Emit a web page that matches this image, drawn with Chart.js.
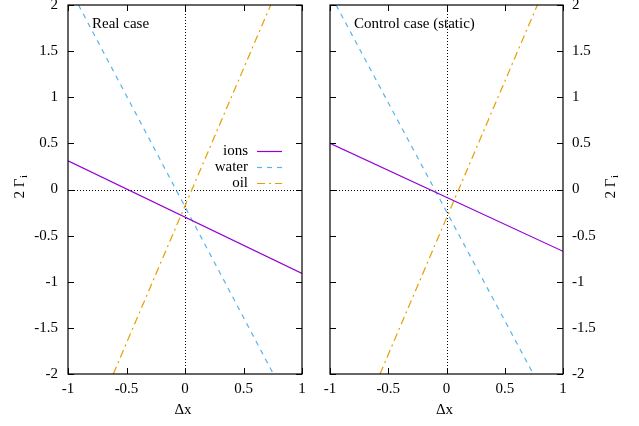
<!DOCTYPE html>
<html>
<head>
<meta charset="utf-8">
<script src="https://cdn.jsdelivr.net/npm/chart.js@4"></script>
<style>
  body { margin: 0; background: #fff; }
  #wrap { position: relative; width: 639px; height: 426px; }
  canvas { position: absolute; top: 0; }
</style>
</head>
<body>
<div id="wrap">
  <canvas id="realChart" width="320" height="426" style="left:0"></canvas>
  <canvas id="staticChart" width="319" height="426" style="left:320px"></canvas>
</div>
<script>
// series names
const seriesNames = ["ions", "water", "oil"];

// Real case: [dx, 2*Gamma_i] end points
const realIons = [[-1, 0.31], [1, -0.91]];
const realWater = [[-0.91, 2], [0.755, -2]];
const realOil = [[-0.613, -2], [0.732, 2]];

// Control case (static)
const staticIons = [[-1, 0.5], [1, -0.67]];
const staticWater = [[-0.948, 2], [0.745, -2]];
const staticOil = [[-0.571, -2], [0.78, 2]];

// tick labels
const xTicks = [-1, -0.5, 0, 0.5, 1];
const yTicks = [-2, -1.5, -1, -0.5, 0, 0.5, 1, 1.5, 2];

const FONT = "'Liberation Serif', 'DejaVu Serif', serif";
const colors = ["#9400d3", "#56b4e9", "#e69f00"];
const dashes = [[], [5, 5], [8, 4, 2, 4]];

function toPoints(arr) {
  return arr.map(p => ({ x: p[0], y: p[1] }));
}

function makeDatasets(series) {
  return series.map((s, i) => ({
    label: seriesNames[i],
    data: toPoints(s),
    showLine: true,
    borderColor: colors[i],
    borderWidth: 1.2,
    borderDash: dashes[i],
    pointRadius: 0,
    fill: false,
  }));
}

// no extra room for label overflow, the frame is placed by hand
function noPad(s) {
  s.paddingTop = 0;
  s.paddingBottom = 0;
  s.paddingLeft = 0;
  s.paddingRight = 0;
}

// gnuplot-like frame, inward mirror ticks, zero axes, legend and labels
const gnuplotStyle = {
  id: "gnuplotStyle",
  beforeDatasetsDraw(chart) {
    const ctx = chart.ctx;
    const a = chart.chartArea;
    const xs = chart.scales.x, ys = chart.scales.y;
    ctx.save();
    ctx.strokeStyle = "#000";
    ctx.lineWidth = 1;
    ctx.setLineDash([1, 2]);
    const x0 = Math.round(xs.getPixelForValue(0)) + 0.5;
    const y0 = Math.round(ys.getPixelForValue(0)) + 0.5;
    ctx.beginPath();
    ctx.moveTo(x0, a.top); ctx.lineTo(x0, a.bottom);
    ctx.moveTo(a.left, y0); ctx.lineTo(a.right, y0);
    ctx.stroke();
    ctx.restore();
  },
  afterDatasetsDraw(chart, args, opts) {
    const ctx = chart.ctx;
    const a = chart.chartArea;
    const xs = chart.scales.x, ys = chart.scales.y;
    ctx.save();
    ctx.strokeStyle = "#000";
    ctx.lineWidth = 1.2;
    ctx.strokeRect(a.left, a.top, a.right - a.left, a.bottom - a.top);
    ctx.lineWidth = 1;
    ctx.beginPath();
    xTicks.forEach(v => {
      const px = Math.round(xs.getPixelForValue(v)) + 0.5;
      ctx.moveTo(px, a.bottom); ctx.lineTo(px, a.bottom - 6);
      ctx.moveTo(px, a.top); ctx.lineTo(px, a.top + 6);
    });
    yTicks.forEach(v => {
      const py = Math.round(ys.getPixelForValue(v)) + 0.5;
      ctx.moveTo(a.left, py); ctx.lineTo(a.left + 6, py);
      ctx.moveTo(a.right, py); ctx.lineTo(a.right - 6, py);
    });
    ctx.stroke();

    ctx.fillStyle = "#000";
    ctx.font = "15px " + FONT;
    ctx.textBaseline = "middle";
    ctx.textAlign = "left";
    ctx.fillText(opts.caption, a.left + 24, 24);

    // x title
    ctx.textAlign = "center";
    ctx.fillText("\u0394x", (a.left + a.right) / 2 - 2, 410);

    // y title, rotated, with subscript
    ctx.save();
    ctx.translate(opts.yTitleX, 187);
    ctx.rotate(-Math.PI / 2);
    ctx.textAlign = "left";
    ctx.font = "15px " + FONT;
    const main = "2 \u0393";
    const w = ctx.measureText(main).width;
    ctx.font = "11px " + FONT;
    const ws = ctx.measureText("i").width;
    const start = -(w + ws) / 2;
    ctx.font = "15px " + FONT;
    ctx.fillText(main, start, 0);
    ctx.font = "11px " + FONT;
    ctx.fillText("i", start + w + 0.5, 4);
    ctx.restore();

    if (opts.legend) {
      ctx.font = "15px " + FONT;
      ctx.textAlign = "right";
      const rows = [151, 167, 183];
      chart.data.datasets.forEach((ds, i) => {
        ctx.fillStyle = "#000";
        ctx.fillText(ds.label, 248, rows[i]);
        ctx.strokeStyle = ds.borderColor;
        ctx.lineWidth = ds.borderWidth;
        ctx.setLineDash(ds.borderDash);
        ctx.beginPath();
        ctx.moveTo(257, rows[i] + 0.5);
        ctx.lineTo(282, rows[i] + 0.5);
        ctx.stroke();
      });
      ctx.setLineDash([]);
    }
    ctx.restore();
  },
};

function makeConfig(series, yPos, padding, yWidth, caption, yTitleX, legend) {
  return {
    type: "scatter",
    data: { datasets: makeDatasets(series) },
    options: {
      responsive: false,
      animation: false,
      devicePixelRatio: 1,
      events: [],
      layout: { padding: padding },
      plugins: {
        legend: { display: false },
        tooltip: { enabled: false },
        gnuplotStyle: { caption: caption, yTitleX: yTitleX, legend: legend },
      },
      scales: {
        x: {
          type: "linear",
          min: -1,
          max: 1,
          afterBuildTicks: s => { s.ticks = xTicks.map(v => ({ value: v })); },
          afterFit: s => { s.height = 52; noPad(s); },
          grid: { display: false, drawTicks: false },
          border: { display: false },
          ticks: {
            padding: 6,
            color: "#000",
            font: { family: FONT, size: 15 },
            maxRotation: 0,
            callback: v => String(v),
          },
        },
        y: {
          type: "linear",
          position: yPos,
          min: -2,
          max: 2,
          afterBuildTicks: s => { s.ticks = yTicks.map(v => ({ value: v })); },
          afterFit: s => { s.width = yWidth; noPad(s); },
          grid: { display: false, drawTicks: false },
          border: { display: false },
          ticks: {
            padding: yPos === "left" ? 10 : 9,
            color: "#000",
            font: { family: FONT, size: 15 },
            callback: v => String(v),
          },
        },
      },
    },
    plugins: [gnuplotStyle],
  };
}

const realChart = new Chart(
  document.getElementById("realChart"),
  makeConfig([realIons, realWater, realOil], "left",
    { top: 5, left: 0, right: 18, bottom: 0 }, 68, "Real case", 20, true)
);

const staticChart = new Chart(
  document.getElementById("staticChart"),
  makeConfig([staticIons, staticWater, staticOil], "right",
    { top: 5, left: 10, right: 0, bottom: 0 }, 76, "Control case (static)", 611 - 320, false)
);
</script>
</body>
</html>
